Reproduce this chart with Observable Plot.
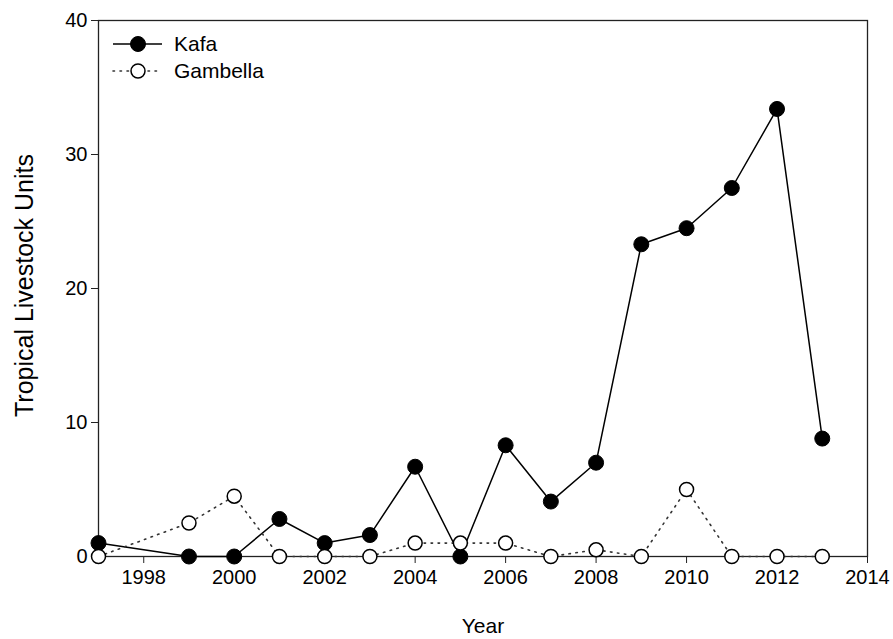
<!DOCTYPE html>
<html>
<head>
<meta charset="utf-8">
<script src="https://cdn.jsdelivr.net/npm/d3@7"></script>
<script src="https://cdn.jsdelivr.net/npm/@observablehq/plot@0.6"></script>
<style>
  html, body { margin: 0; padding: 0; background: #fff; }
  #wrap { position: relative; width: 893px; height: 639px; font-family: "Liberation Sans", Arial, sans-serif; }
  #legend { position: absolute; left: 112px; top: 30px; font-size: 21px; color: #000; }
  #legend .row { display: flex; align-items: center; height: 27px; }
  #legend svg { display: block; margin-right: 10px; }
</style>
</head>
<body>
<div id="wrap">
  <div id="chart"></div>
  <div id="legend"></div>
</div>
<script>
const years = [1997, 1999, 2000, 2001, 2002, 2003, 2004, 2005, 2006, 2007, 2008, 2009, 2010, 2011, 2012, 2013];
const kafa = [1.0, 0, 0, 2.8, 1.0, 1.6, 6.7, 0, 8.3, 4.1, 7.0, 23.3, 24.5, 27.5, 33.4, 8.8];
const gambella = [0, 2.5, 4.5, 0, 0, 0, 1.0, 1.0, 1.0, 0, 0.5, 0, 5.0, 0, 0, 0];
const xTicks = [1998, 2000, 2002, 2004, 2006, 2008, 2010, 2012, 2014];
const yTicks = [0, 10, 20, 30, 40];
const seriesNames = ["Kafa", "Gambella"];
const xLabel = "Year";
const yLabel = "Tropical Livestock Units";

const kafaData = years.map((y, i) => ({year: y, value: kafa[i]}));
const gambData = years.map((y, i) => ({year: y, value: gambella[i]}));

const chart = Plot.plot({
  width: 893,
  height: 639,
  marginLeft: 98,
  marginRight: 26,
  marginTop: 20,
  marginBottom: 83,
  style: {fontFamily: "'Liberation Sans', Arial, sans-serif", fontSize: "20px", color: "#000", background: "#fff"},
  x: {domain: [1997, 2014]},
  y: {domain: [0, 40]},
  marks: [
    Plot.frame({stroke: "#222", strokeWidth: 1.3}),
    Plot.axisX({ticks: xTicks, tickFormat: d => String(d), tickSize: 7, tickPadding: 6, stroke: "#222",
      fontSize: 20, label: null}),
    Plot.axisY({ticks: yTicks, tickSize: 7, tickPadding: 4, stroke: "#222", fontSize: 20, label: null}),
    Plot.text([xLabel], {text: d => d, frameAnchor: "bottom", dy: 70, fontSize: 21, lineAnchor: "middle", textAnchor: "middle", fill: "#000"}),
    Plot.text([yLabel], {text: d => d, frameAnchor: "left", dx: -74, dy: -3, rotate: -90, fontSize: 25, lineAnchor: "middle", textAnchor: "middle", fill: "#000"}),
    Plot.line(kafaData, {x: "year", y: "value", stroke: "#000", strokeWidth: 1.5}),
    Plot.line(gambData, {x: "year", y: "value", stroke: "#333", strokeWidth: 1.6, strokeDasharray: "1.5,5.5", strokeLinecap: "round"}),
    Plot.dot(kafaData, {x: "year", y: "value", r: 7.5, fill: "#000", stroke: "#000", strokeWidth: 1}),
    Plot.dot(gambData, {x: "year", y: "value", r: 7, fill: "#fff", stroke: "#000", strokeWidth: 1.5})
  ]
});
document.getElementById("chart").appendChild(chart);

const legend = document.getElementById("legend");
seriesNames.forEach((name, i) => {
  const row = document.createElement("div");
  row.className = "row";
  const dash = i === 0 ? "" : 'stroke-dasharray="1.5,5.5" stroke-linecap="round"';
  const fill = i === 0 ? "#000" : "#fff";
  const sw = i === 0 ? 1.5 : 1.6;
  row.innerHTML = `<svg width="52" height="20"><line x1="1" y1="10" x2="50" y2="10" stroke="${i === 0 ? '#000' : '#333'}" stroke-width="${sw}" ${dash}/><circle cx="26" cy="10" r="${i === 0 ? 7.5 : 7}" fill="${fill}" stroke="#000" stroke-width="${i === 0 ? 1 : 1.5}"/></svg><span>${name}</span>`;
  legend.appendChild(row);
});
</script>
</body>
</html>
